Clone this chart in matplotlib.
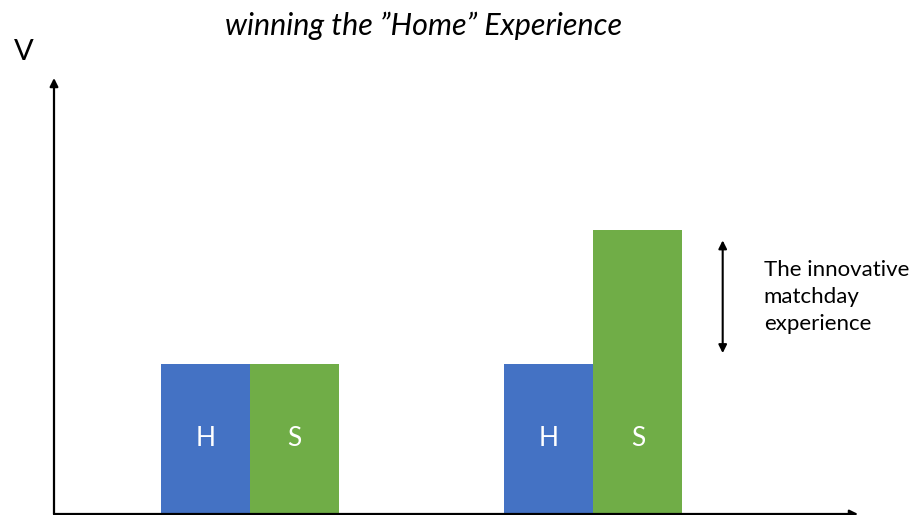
import matplotlib
matplotlib.use("Agg")
import matplotlib.pyplot as plt

# Values
groups = [1.0, 2.75]
home = [1.0, 1.0]
stadium = [1.0, 1.89]
bar_labels = ["H", "S"]
title = "winning the \u201dHome\u201d Experience"
note = "The innovative\nmatchday\nexperience"

blue = "#4472C4"
green = "#70AD47"
width = 0.455

plt.rcParams["font.family"] = ["Lato", "DejaVu Sans"]

fig = plt.figure(figsize=(9.15, 5.15), dpi=100)
ax = fig.add_axes([54 / 915, 1 / 515, 804 / 915, 436 / 515])
ax.set_xlim(0, 4.1)
ax.set_ylim(0, 2.9)
ax.axis("off")

# bars, H to the left of the group centre, S to the right
for x, h, s in zip(groups, home, stadium):
    ax.bar(x - width / 2, h, width, color=blue, linewidth=0)
    ax.bar(x + width / 2, s, width, color=green, linewidth=0)
    ax.text(x - width / 2, 0.5, bar_labels[0], color="white", fontsize=19,
            ha="center", va="center")
    ax.text(x + width / 2, 0.5, bar_labels[1], color="white", fontsize=19,
            ha="center", va="center")

# axes drawn as arrows
arrow = dict(arrowstyle="-|>", lw=1.6, color="black", mutation_scale=12,
             shrinkA=0, shrinkB=0)
ax.annotate("", xy=(1, 0), xytext=(0, 0), xycoords="axes fraction",
            arrowprops=arrow)
ax.annotate("", xy=(0, 1), xytext=(0, 0), xycoords="axes fraction",
            arrowprops=arrow)

# gap between home and stadium value in the second group
xa = 3.41
ax.annotate("", xy=(xa, stadium[1] - 0.07), xytext=(xa, home[1] + 0.07),
            arrowprops=dict(arrowstyle="<|-|>", lw=1.5, color="black",
                            mutation_scale=12, shrinkA=0, shrinkB=0))
ax.text(3.62, (stadium[1] + home[1]) / 2, note, fontsize=16, ha="left",
        va="center", linespacing=1.45)

fig.text(14 / 915, 1 - 52 / 515, "V", fontsize=21, ha="left", va="center")
fig.text(424 / 915, 1 - 26 / 515, title, fontsize=22, style="italic",
         ha="center", va="center")

fig.savefig("out.png", dpi=100)
